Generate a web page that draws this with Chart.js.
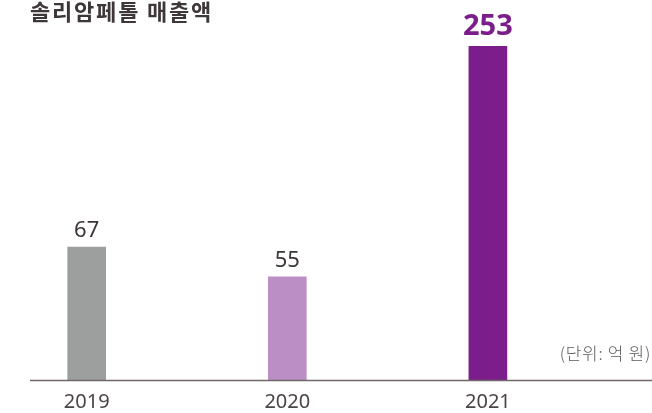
<!DOCTYPE html>
<html>
<head>
<meta charset="utf-8">
<script src="https://cdn.jsdelivr.net/npm/chart.js@4/dist/chart.umd.min.js"></script>
<style>
  html, body { margin: 0; padding: 0; background: #ffffff; }
  #wrap { width: 652px; height: 413px; position: relative; }
</style>
</head>
<body>
<div id="wrap"><canvas id="c" width="652" height="413"></canvas></div>
<script>
const title = '솔리암페톨 매출액';
const unitLabel = '(단위: 억 원)';
const categories = ['2019', '2020', '2021'];
const sales = [67, 55, 253];
const barColors = ['#9d9f9e', '#bb8fc5', '#7b1e8b'];
const highlightIndex = 2;

const points = categories.map((c, i) => ({ x: i, y: sales[i] }));

const overlayPlugin = {
  id: 'overlay',
  afterDraw(chart) {
    const ctx = chart.ctx;
    const area = chart.chartArea;
    ctx.save();
    // title
    ctx.fillStyle = '#3e3739';
    ctx.font = 'bold 22px "Noto Sans CJK KR"';
    ctx.letterSpacing = '1.8px';
    ctx.textAlign = 'left';
    ctx.textBaseline = 'middle';
    ctx.fillText(title, area.left, 12);
    // baseline axis
    ctx.strokeStyle = '#6f676a';
    ctx.lineWidth = 1.5;
    ctx.beginPath();
    ctx.moveTo(area.left, area.bottom + 0.5);
    ctx.lineTo(chart.width, area.bottom + 0.5);
    ctx.stroke();
    // unit text
    ctx.fillStyle = '#5e5a5c';
    ctx.font = '300 17px "Noto Sans CJK KR"';
    ctx.letterSpacing = '0.7px';
    ctx.textAlign = 'right';
    ctx.textBaseline = 'middle';
    ctx.fillText(unitLabel, chart.width - 1, area.bottom - 26);
    ctx.letterSpacing = '0px';
    // value labels
    const meta = chart.getDatasetMeta(0);
    meta.data.forEach((bar, i) => {
      const hi = i === highlightIndex;
      ctx.fillStyle = hi ? '#7b1e8b' : '#3d3639';
      ctx.font = hi ? 'bold 29px "Noto Sans"' : '22px "Noto Sans"';
      ctx.textAlign = 'center';
      ctx.textBaseline = 'alphabetic';
      ctx.fillText(String(sales[i]), bar.x, bar.y - (hi ? 11.5 : 10));
    });
    ctx.restore();
  }
};

new Chart(document.getElementById('c'), {
  type: 'bar',
  data: {
    datasets: [{
      data: points,
      backgroundColor: barColors,
      borderWidth: 0,
      barThickness: 38
    }]
  },
  options: {
    responsive: false,
    animation: false,
    layout: { padding: { left: 30, right: 0, top: 30, bottom: 0 } },
    plugins: {
      legend: { display: false },
      tooltip: { enabled: false },
      title: { display: false }
    },
    scales: {
      x: {
        type: 'linear',
        offset: false,
        min: -0.2826,
        max: 2.818,
        grid: { display: false, drawTicks: false, offset: false },
        border: { display: false },
        afterBuildTicks(scale) {
          scale.ticks = categories.map((c, i) => ({ value: i }));
        },
        afterFit(scale) { scale.height = 33; },
        ticks: {
          autoSkip: false,
          maxRotation: 0,
          padding: 10,
          color: '#4b4347',
          font: { family: '"Noto Sans"', size: 20 },
          callback: (v) => categories[v]
        }
      },
      y: {
        type: 'logarithmic',
        display: false,
        min: 27.8,
        max: 281.7
      }
    }
  },
  plugins: [overlayPlugin]
});
</script>
</body>
</html>
